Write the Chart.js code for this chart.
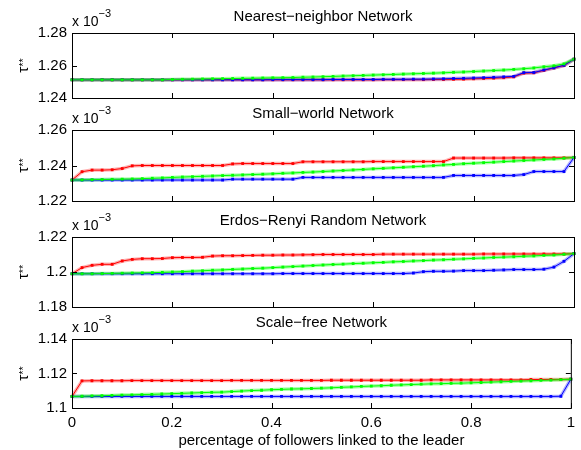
<!DOCTYPE html>
<html>
<head>
<meta charset="utf-8">
<script src="https://cdn.jsdelivr.net/npm/chart.js@4.4.1/dist/chart.umd.min.js"></script>
<style>
  html, body { margin: 0; padding: 0; background: #fff; }
  #wrap { position: relative; width: 581px; height: 450px; }
  #wrap canvas { position: absolute; left: 0; top: 0; }
</style>
</head>
<body>
<div id="wrap">
  <canvas id="c1" width="581" height="450"></canvas>
  <canvas id="c2" width="581" height="450"></canvas>
  <canvas id="c3" width="581" height="450"></canvas>
  <canvas id="c4" width="581" height="450"></canvas>
</div>
<script>
const xs = [0, 0.02, 0.04, 0.06, 0.08, 0.1, 0.12, 0.14, 0.16, 0.18,
            0.2, 0.22, 0.24, 0.26, 0.28, 0.3, 0.32, 0.34, 0.36, 0.38,
            0.4, 0.42, 0.44, 0.46, 0.48, 0.5, 0.52, 0.54, 0.56, 0.58,
            0.6, 0.62, 0.64, 0.66, 0.68, 0.7, 0.72, 0.74, 0.76, 0.78,
            0.8, 0.82, 0.84, 0.86, 0.88, 0.9, 0.92, 0.94, 0.96, 0.98, 1];
const xTicks = [0, 0.2, 0.4, 0.6, 0.8, 1];
const xTickLabels = ['0', '0.2', '0.4', '0.6', '0.8', '1'];
const xLabel = 'percentage of followers linked to the leader';

const panelTitles = ['Nearest\u2212neighbor Network', 'Small\u2212world Network',
                     'Erdos\u2212Renyi Random Network', 'Scale\u2212free Network'];

// Nearest-neighbor
const nnYTicks = [1.24, 1.26, 1.28];
const nnYLabels = ['1.24', '1.26', '1.28'];
const nnRed = [1.2512, 1.2512, 1.2512, 1.2512, 1.2512, 1.2512, 1.2512, 1.2512, 1.2512, 1.2512,
               1.2512, 1.2512, 1.2512, 1.2512, 1.2512, 1.2512, 1.2512, 1.2512, 1.2512, 1.2512,
               1.2512, 1.2512, 1.2512, 1.2512, 1.2512, 1.2512, 1.2512, 1.2512, 1.2512, 1.2512,
               1.2512, 1.2513, 1.2513, 1.2513, 1.2513, 1.2513, 1.2514, 1.2514, 1.2515, 1.2516,
               1.2518, 1.2520, 1.2522, 1.2525, 1.2530, 1.2553, 1.2555, 1.2570, 1.2585, 1.2600, 1.2639];
const nnGreen = [1.2512, 1.2512, 1.2512, 1.2512, 1.2512, 1.2512, 1.2512, 1.2512, 1.2512, 1.2512,
                 1.2514, 1.2515, 1.2516, 1.2517, 1.2518, 1.2519, 1.2520, 1.2521, 1.2522, 1.2523,
                 1.2524, 1.2525, 1.2526, 1.2528, 1.2529, 1.2531, 1.2533, 1.2535, 1.2537, 1.2539,
                 1.2541, 1.2543, 1.2545, 1.2547, 1.2549, 1.2551, 1.2553, 1.2555, 1.2558, 1.2560,
                 1.2563, 1.2566, 1.2569, 1.2572, 1.2576, 1.2580, 1.2585, 1.2592, 1.2598, 1.2610, 1.2639];
const nnBlue = [1.2512, 1.2512, 1.2512, 1.2512, 1.2512, 1.2512, 1.2512, 1.2512, 1.2512, 1.2512,
                1.2512, 1.2512, 1.2512, 1.2512, 1.2512, 1.2512, 1.2512, 1.2512, 1.2512, 1.2512,
                1.2513, 1.2513, 1.2513, 1.2513, 1.2513, 1.2513, 1.2514, 1.2514, 1.2514, 1.2514,
                1.2514, 1.2515, 1.2515, 1.2515, 1.2516, 1.2516, 1.2517, 1.2518, 1.2520, 1.2521,
                1.2523, 1.2525, 1.2527, 1.2530, 1.2533, 1.2556, 1.2557, 1.2572, 1.2586, 1.2601, 1.2639];

// Small-world
const swYTicks = [1.22, 1.24, 1.26];
const swYLabels = ['1.22', '1.24', '1.26'];
const swRed = [1.2318, 1.2365, 1.2374, 1.2374, 1.2376, 1.2383, 1.2398, 1.2400, 1.2400, 1.2400,
               1.2400, 1.2400, 1.2400, 1.2400, 1.2400, 1.2400, 1.2409, 1.2411, 1.2411, 1.2411,
               1.2411, 1.2411, 1.2411, 1.2421, 1.2421, 1.2421, 1.2421, 1.2421, 1.2421, 1.2421,
               1.2422, 1.2422, 1.2422, 1.2422, 1.2422, 1.2422, 1.2422, 1.2422, 1.2442, 1.2442,
               1.2442, 1.2442, 1.2442, 1.2442, 1.2443, 1.2443, 1.2443, 1.2443, 1.2443, 1.2443, 1.2445];
const swGreen = [1.2318, 1.2319, 1.2320, 1.2321, 1.2322, 1.2323, 1.2324, 1.2326, 1.2328, 1.2330,
                 1.2333, 1.2335, 1.2337, 1.2339, 1.2341, 1.2343, 1.2345, 1.2347, 1.2349, 1.2351,
                 1.2353, 1.2356, 1.2358, 1.2361, 1.2363, 1.2366, 1.2369, 1.2372, 1.2375, 1.2378,
                 1.2381, 1.2384, 1.2387, 1.2390, 1.2393, 1.2396, 1.2399, 1.2403, 1.2406, 1.2410,
                 1.2413, 1.2416, 1.2419, 1.2422, 1.2425, 1.2428, 1.2431, 1.2434, 1.2437, 1.2441, 1.2445];
const swBlue = [1.2318, 1.2318, 1.2318, 1.2318, 1.2318, 1.2318, 1.2318, 1.2318, 1.2318, 1.2318,
                1.2318, 1.2318, 1.2318, 1.2318, 1.2318, 1.2318, 1.2323, 1.2323, 1.2323, 1.2323,
                1.2323, 1.2323, 1.2323, 1.2333, 1.2333, 1.2333, 1.2333, 1.2333, 1.2333, 1.2333,
                1.2333, 1.2333, 1.2333, 1.2333, 1.2333, 1.2333, 1.2333, 1.2333, 1.2344, 1.2344,
                1.2344, 1.2344, 1.2344, 1.2344, 1.2344, 1.2349, 1.2366, 1.2366, 1.2366, 1.2366, 1.2445];

// Erdos-Renyi
const erYTicks = [1.18, 1.2, 1.22];
const erYLabels = ['1.18', '1.2', '1.22'];
const erRed = [1.1990, 1.2025, 1.2038, 1.2044, 1.2044, 1.2063, 1.2072, 1.2076, 1.2076, 1.2077,
               1.2082, 1.2083, 1.2083, 1.2084, 1.2091, 1.2093, 1.2093, 1.2094, 1.2095, 1.2096,
               1.2096, 1.2097, 1.2097, 1.2098, 1.2099, 1.2100, 1.2100, 1.2100, 1.2100, 1.2100,
               1.2100, 1.2102, 1.2102, 1.2102, 1.2102, 1.2102, 1.2102, 1.2102, 1.2102, 1.2102,
               1.2102, 1.2103, 1.2103, 1.2103, 1.2103, 1.2103, 1.2103, 1.2103, 1.2103, 1.2103, 1.2105];
const erGreen = [1.1990, 1.1990, 1.1990, 1.1991, 1.1992, 1.1993, 1.1994, 1.1995, 1.1996, 1.1998,
                 1.2000, 1.2002, 1.2005, 1.2007, 1.2010, 1.2012, 1.2015, 1.2017, 1.2020, 1.2022,
                 1.2025, 1.2028, 1.2031, 1.2034, 1.2037, 1.2040, 1.2043, 1.2045, 1.2048, 1.2050,
                 1.2053, 1.2055, 1.2058, 1.2060, 1.2063, 1.2065, 1.2068, 1.2070, 1.2073, 1.2075,
                 1.2078, 1.2080, 1.2083, 1.2085, 1.2087, 1.2090, 1.2092, 1.2095, 1.2097, 1.2101, 1.2105];
const erBlue = [1.1990, 1.1990, 1.1990, 1.1990, 1.1990, 1.1990, 1.1990, 1.1990, 1.1990, 1.1990,
                1.1990, 1.1990, 1.1990, 1.1990, 1.1990, 1.1990, 1.1990, 1.1990, 1.1990, 1.1990,
                1.1990, 1.1991, 1.1991, 1.1991, 1.1991, 1.1991, 1.1991, 1.1991, 1.1991, 1.1991,
                1.1991, 1.1991, 1.1991, 1.1991, 1.1994, 1.2002, 1.2004, 1.2004, 1.2005, 1.2008,
                1.2008, 1.2008, 1.2010, 1.2012, 1.2014, 1.2014, 1.2014, 1.2016, 1.2028, 1.2061, 1.2105];

// Scale-free
const sfYTicks = [1.1, 1.12, 1.14];
const sfYLabels = ['1.1', '1.12', '1.14'];
const sfRed = [1.1067, 1.1157, 1.1158, 1.1158, 1.1158, 1.1158, 1.1159, 1.1159, 1.1159, 1.1159,
               1.1159, 1.1159, 1.1159, 1.1159, 1.1159, 1.1159, 1.1160, 1.1160, 1.1160, 1.1160,
               1.1160, 1.1160, 1.1160, 1.1160, 1.1160, 1.1160, 1.1161, 1.1161, 1.1161, 1.1161,
               1.1161, 1.1161, 1.1161, 1.1161, 1.1161, 1.1161, 1.1163, 1.1163, 1.1163, 1.1163,
               1.1163, 1.1163, 1.1163, 1.1163, 1.1163, 1.1163, 1.1165, 1.1165, 1.1165, 1.1165, 1.1167];
const sfGreen = [1.1067, 1.1068, 1.1070, 1.1071, 1.1073, 1.1075, 1.1076, 1.1078, 1.1079, 1.1081,
                 1.1083, 1.1085, 1.1087, 1.1089, 1.1091, 1.1092, 1.1095, 1.1098, 1.1101, 1.1103,
                 1.1106, 1.1108, 1.1110, 1.1111, 1.1113, 1.1115, 1.1117, 1.1120, 1.1122, 1.1125,
                 1.1127, 1.1129, 1.1132, 1.1134, 1.1136, 1.1138, 1.1140, 1.1141, 1.1143, 1.1144,
                 1.1146, 1.1148, 1.1150, 1.1152, 1.1154, 1.1156, 1.1158, 1.1160, 1.1162, 1.1164, 1.1167];
const sfBlue = [1.1067, 1.1067, 1.1067, 1.1067, 1.1067, 1.1067, 1.1067, 1.1067, 1.1067, 1.1067,
                1.1067, 1.1067, 1.1067, 1.1067, 1.1067, 1.1067, 1.1067, 1.1067, 1.1067, 1.1067,
                1.1067, 1.1067, 1.1067, 1.1067, 1.1067, 1.1067, 1.1067, 1.1067, 1.1067, 1.1067,
                1.1067, 1.1067, 1.1067, 1.1067, 1.1067, 1.1067, 1.1067, 1.1067, 1.1067, 1.1067,
                1.1067, 1.1067, 1.1067, 1.1067, 1.1067, 1.1067, 1.1067, 1.1067, 1.1067, 1.1068, 1.1167];

const FONT = '"Liberation Sans", Arial, Helvetica, sans-serif';
Chart.defaults.font.family = FONT;
Chart.defaults.color = '#000';

// matlab-like box, inward ticks, titles and the x10^-3 / tau** labels
const matlabFrame = {
    id: 'matlabFrame',
    afterDraw(chart, args, opts) {
        const { ctx, chartArea: a, scales: { x, y } } = chart;
        const line = (x1, y1, x2, y2) => { ctx.beginPath(); ctx.moveTo(x1, y1); ctx.lineTo(x2, y2); ctx.stroke(); };
        ctx.save();
        ctx.strokeStyle = '#000';
        ctx.lineWidth = 1;
        ctx.strokeRect(a.left + 0.5, a.top + 0.5, a.right - a.left, a.bottom - a.top);
        xTicks.forEach(v => {
            const px = Math.round(x.getPixelForValue(v)) + 0.5;
            line(px, a.bottom, px, a.bottom - 5);
            line(px, a.top, px, a.top + 5);
        });
        opts.yTicks.forEach(v => {
            const py = Math.round(y.getPixelForValue(v)) + 0.5;
            line(a.left, py, a.left + 5, py);
            line(a.right, py, a.right - 5, py);
        });

        ctx.fillStyle = '#000';
        ctx.textBaseline = 'alphabetic';
        ctx.textAlign = 'center';
        ctx.font = '15px ' + FONT;
        ctx.fillText(opts.title, (a.left + a.right) / 2, a.top - 12);

        ctx.textAlign = 'left';
        ctx.font = '14px ' + FONT;
        ctx.fillText('x 10', a.left, a.top - 7);
        const w = ctx.measureText('x 10').width;
        ctx.font = '11px ' + FONT;
        ctx.fillText('\u22123', a.left + w, a.top - 16);

        // rotated tau** label
        ctx.translate(23, (a.top + a.bottom) / 2);
        ctx.rotate(-Math.PI / 2);
        ctx.font = '15px ' + FONT;
        const wt = ctx.measureText('\u03c4').width;
        ctx.font = '11px ' + FONT;
        const ws = ctx.measureText('**').width;
        const start = -(wt + ws) / 2;
        ctx.font = '15px ' + FONT;
        ctx.fillText('\u03c4', start, 5);
        ctx.font = '11px ' + FONT;
        ctx.fillText('**', start + wt, 3.5);
        ctx.restore();
    }
};

const lineSet = (ys, color, order) => ({
    data: xs.map((x, i) => ({ x: x, y: ys[i] })),
    borderColor: color,
    backgroundColor: color,
    borderWidth: 1,
    pointStyle: 'rect',
    pointRadius: 2,
    pointBorderWidth: 0,
    tension: 0,
    clip: 6,
    order: order
});

const haloSet = (ys, color, order) => ({
    data: xs.map((x, i) => ({ x: x, y: ys[i] })),
    borderColor: color,
    borderWidth: 3.5,
    pointRadius: 0,
    tension: 0,
    clip: 6,
    order: order
});

const panels = [
    { id: 'c1', title: panelTitles[0], top: 33, bottom: 98, yTicks: nnYTicks, yLabels: nnYLabels, red: nnRed, green: nnGreen, blue: nnBlue },
    { id: 'c2', title: panelTitles[1], top: 130, bottom: 201, yTicks: swYTicks, yLabels: swYLabels, red: swRed, green: swGreen, blue: swBlue },
    { id: 'c3', title: panelTitles[2], top: 237, bottom: 307, yTicks: erYTicks, yLabels: erYLabels, red: erRed, green: erGreen, blue: erBlue },
    { id: 'c4', title: panelTitles[3], top: 339, bottom: 408, yTicks: sfYTicks, yLabels: sfYLabels, red: sfRed, green: sfGreen, blue: sfBlue, last: true }
];

panels.forEach(p => {
    new Chart(document.getElementById(p.id), {
        type: 'line',
        data: {
            datasets: [
                lineSet(p.green, 'rgb(0,255,0)', 1),
                lineSet(p.blue, 'rgb(0,0,255)', 2),
                lineSet(p.red, 'rgb(255,0,0)', 3),
                haloSet(p.green, 'rgba(0,255,0,0.35)', 4),
                haloSet(p.blue, 'rgba(0,0,255,0.3)', 5),
                haloSet(p.red, 'rgba(255,0,0,0.3)', 6)
            ]
        },
        options: {
            responsive: false,
            animation: false,
            events: [],
            layout: { padding: { top: p.top, bottom: p.last ? 0 : 450 - p.bottom, left: 0, right: 7 } },
            plugins: {
                legend: { display: false },
                tooltip: { enabled: false },
                matlabFrame: { title: p.title, yTicks: p.yTicks }
            },
            scales: {
                x: {
                    type: 'linear',
                    min: 0,
                    max: 1,
                    display: !!p.last,
                    grid: { display: false, drawTicks: false },
                    border: { display: false },
                    afterBuildTicks: s => { s.ticks = xTicks.map(v => ({ value: v })); },
                    afterFit: s => { s.height = p.last ? 42 : 0; },
                    ticks: {
                        font: { size: 15 },
                        padding: 6,
                        maxRotation: 0,
                        callback: (v, i) => xTickLabels[i]
                    },
                    title: { display: true, text: xLabel, font: { size: 15 }, padding: { top: 0, bottom: 0 } }
                },
                y: {
                    min: p.yTicks[0],
                    max: p.yTicks[p.yTicks.length - 1],
                    grid: { display: false, drawTicks: false },
                    border: { display: false },
                    afterBuildTicks: s => { s.ticks = p.yTicks.map(v => ({ value: v })); },
                    afterFit: s => { s.width = 72; },
                    ticks: {
                        font: { size: 15 },
                        padding: 5,
                        callback: (v, i) => p.yLabels[i]
                    }
                }
            }
        },
        plugins: [matlabFrame]
    });
});
</script>
</body>
</html>
